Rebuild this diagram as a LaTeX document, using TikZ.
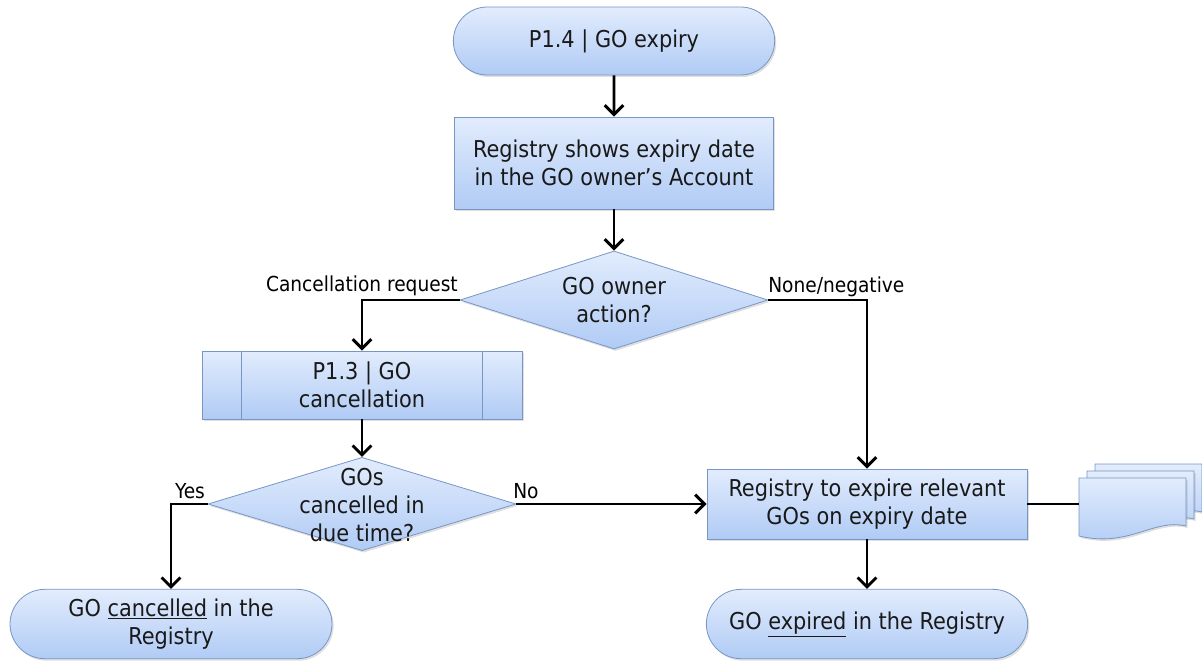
\documentclass[tikz,border=0pt]{standalone}
\usepackage{fontspec}
\setmainfont{DejaVu Sans Condensed}
\usetikzlibrary{shapes.geometric,shapes.misc,arrows.meta,shadows}

\definecolor{boxtop}{RGB}{226,236,253}
\definecolor{boxbot}{RGB}{176,203,245}
\definecolor{boxline}{RGB}{120,150,196}
\definecolor{txt}{RGB}{25,25,25}

\tikzset{
  shapebase/.style={draw=boxline, line width=0.6pt, top color=boxtop, bottom color=boxbot,
    drop shadow={opacity=0.25, shadow xshift=1.2pt, shadow yshift=-1.5pt},
    inner sep=0pt, text=txt, font=\fontsize{17.4}{21}\selectfont, align=center},
  term/.style={shapebase, rounded rectangle, minimum width=241pt, minimum height=51pt},
  proc/.style={shapebase, rectangle},
  dec/.style={shapebase, diamond},
  intext/.style={text=txt, font=\fontsize{17.4}{21}\selectfont, align=center, inner sep=0pt},
  lbl/.style={text=black, font=\fontsize{15.5}{17}\selectfont, inner sep=0pt},
  arr/.style={line width=2.2pt, black, -{Straight Barb[length=7pt,width=14pt,line width=2.2pt]}},
  plain/.style={line width=2.2pt, black},
  docsh/.style={draw=boxline, line width=0.6pt, top color=boxtop, bottom color=boxbot,
    drop shadow={opacity=0.25, shadow xshift=1.2pt, shadow yshift=-1.5pt}}
}

\begin{document}
\begin{tikzpicture}[x=0.75pt, y=-0.75pt]
\useasboundingbox (0,0) rectangle (1202,660);

% shapes
\node[term] (t1) at (614,41) {P1.4 | GO expiry};
\node[proc, minimum width=239pt, minimum height=69pt] (p1) at (614,163)
  {Registry shows expiry date\\in the GO owner’s Account};
\node[dec, minimum width=231pt, minimum height=73.5pt] (d1) at (614,300) {};
\node[intext] (d1t) at (614,300) {GO owner\\action?};

\node[proc, minimum width=240pt, minimum height=51pt] (pp) at (362,385) {P1.3 | GO\\cancellation};
\draw[boxline, line width=0.6pt] ([xshift=30pt]pp.north west) -- ([xshift=30pt]pp.south west);
\draw[boxline, line width=0.6pt] ([xshift=-30pt]pp.north east) -- ([xshift=-30pt]pp.south east);

\node[dec, minimum width=231pt, minimum height=70pt] (d2) at (362,504) {};
\node[intext] (d2t) at (362,505) {GOs\\cancelled in\\due time?};

\node[term, minimum width=241.5pt, minimum height=52pt] (t3) at (171,624)
  {GO \underline{cancelled} in the\\Registry};

\node[proc, minimum width=240pt, minimum height=52.5pt] (p2) at (867,504)
  {Registry to expire relevant\\GOs on expiry date};
\node[term, minimum width=241pt, minimum height=52pt] (t4) at (867,624)
  {GO \underline{expired} in the Registry};

% multi-document
\foreach \dx/\dy in {16/-14, 8/-7, 0/0}{
  \path[docsh] (1079+\dx,478+\dy) -- (1186+\dx,478+\dy) -- (1186+\dx,526+\dy)
    .. controls (1154+\dx,518+\dy) and (1129+\dx,548+\dy) .. (1079+\dx,536+\dy) -- cycle;
}
\coordinate (docin) at (1079,504);

% connectors
\draw[arr] (t1) -- (p1);
\draw[arr] (p1) -- (d1);
\draw[arr] (d1.west) -| (pp.north);
\draw[arr] (d1.east) -| (p2.north);
\draw[arr] (pp) -- (d2);
\draw[arr] (d2.west) -| (t3.north);
\draw[arr] (d2.east) -- (p2.west);
\draw[arr] (p2) -- (t4);
\draw[plain] (p2.east) -- (docin);

% labels
\node[lbl, anchor=east] (lcr) at (458,286) {Cancellation request};
\node[lbl, anchor=west] (lnn) at (768,287) {None/negative};
\node[lbl] (lyes) at (190,491) {Yes};
\node[lbl, anchor=west] (lno) at (513,491) {No};
\end{tikzpicture}
\end{document}
